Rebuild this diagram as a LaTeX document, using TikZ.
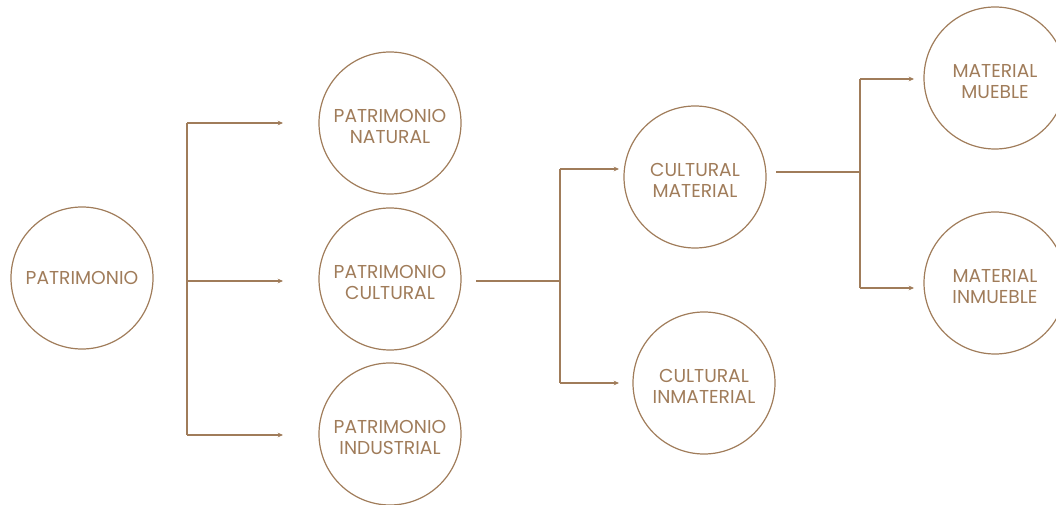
\documentclass[tikz,border=0pt]{standalone}
\usepackage{fontspec}
\setmainfont{Poppins}
\usetikzlibrary{arrows.meta,positioning}
\definecolor{bronze}{RGB}{160,124,90}

\begin{document}
\begin{tikzpicture}[
		x=0.75pt,
		y=-0.75pt,
		>={Stealth[length=4pt,width=3.5pt]},
		font=\fontsize{14}{16.3}\selectfont,
		bubble/.style={
			circle,
			draw=bronze,
			line width=0.9pt,
			text=bronze,
			text centered,
			align=center,
			inner sep=0pt,
			minimum size=106.5pt
		},
		pair/.style={
			bubble,
			text height=31.3pt
		},
		link/.style={
			draw=bronze,
			line width=0.9pt
		}
		]
		\useasboundingbox (0,0) rectangle (1056,505);
		
		% We start by placing the circles
		\node [bubble] (patrimonio) at (82,278) {PATRIMONIO};
		
		\node [pair] (natural) at (390,123) {PATRIMONIO\\NATURAL};
		\node [pair] (cultural) at (390,279) {PATRIMONIO\\CULTURAL};
		\node [pair] (industrial) at (390,434) {PATRIMONIO\\INDUSTRIAL};
		
		\node [pair] (material) at (695,177) {CULTURAL\\MATERIAL};
		\node [pair] (inmaterial) at (704,383) {CULTURAL\\INMATERIAL};
		
		\node [pair] (mueble) at (995,78) {MATERIAL\\MUEBLE};
		\node [pair] (inmueble) at (995,283) {MATERIAL\\INMUEBLE};
		
		% first fork
		\coordinate (forkA1) at (187,123);
		\coordinate (forkA2) at (187,281);
		\coordinate (forkA3) at (187,435);
		\coordinate (tipA1) at (283,123);
		\coordinate (tipA2) at (283,281);
		\coordinate (tipA3) at (283,435);
		
		% second fork
		\coordinate (startB) at (476,281);
		\coordinate (forkB0) at (560,281);
		\coordinate (forkB1) at (560,169);
		\coordinate (forkB2) at (560,383);
		\coordinate (tipB1) at (619,169);
		\coordinate (tipB2) at (619,383);
		
		% third fork
		\coordinate (startC) at (776,172);
		\coordinate (forkC0) at (860,172);
		\coordinate (forkC1) at (860,79);
		\coordinate (forkC2) at (860,288);
		\coordinate (tipC1) at (914,79);
		\coordinate (tipC2) at (914,288);
		
		\draw [link] (forkA1) -- (forkA3);
		\draw [link,->] (forkA1) -- (tipA1);
		\draw [link,->] (forkA2) -- (tipA2);
		\draw [link,->] (forkA3) -- (tipA3);
		
		\draw [link] (startB) -- (forkB0);
		\draw [link] (forkB1) -- (forkB2);
		\draw [link,->] (forkB1) -- (tipB1);
		\draw [link,->] (forkB2) -- (tipB2);
		
		\draw [link] (startC) -- (forkC0);
		\draw [link] (forkC1) -- (forkC2);
		\draw [link,->] (forkC1) -- (tipC1);
		\draw [link,->] (forkC2) -- (tipC2);
		
\end{tikzpicture}
\end{document}
